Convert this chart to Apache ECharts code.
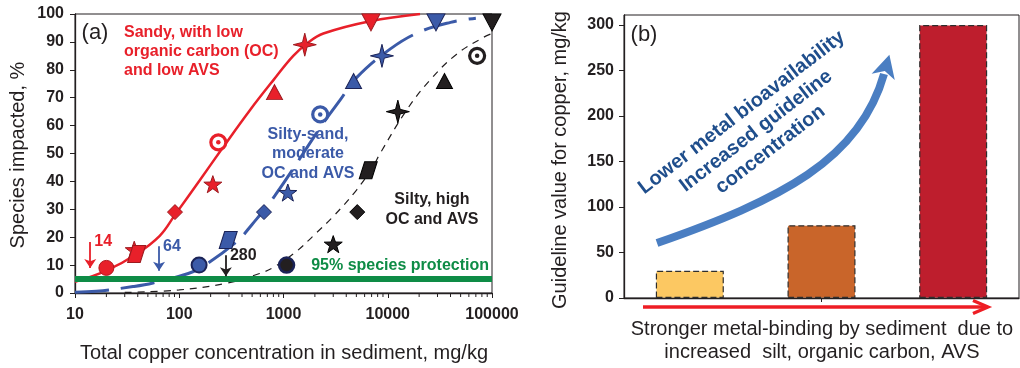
<!DOCTYPE html>
<html>
<head>
<meta charset="utf-8">
<title>Copper guideline values in sediment</title>
<script src="https://cdn.jsdelivr.net/npm/echarts@6/dist/echarts.min.js"></script>
<style>
html, body { margin: 0; padding: 0; background: #ffffff; }
#chart { width: 1020px; height: 368px; }
</style>
</head>
<body>
<div id="chart"></div>
<script>
// ---------- Panel (a): species impacted vs total copper in sediment (mg/kg) ----------
const sandyPoints     = [[20, 9], [39, 14], [91, 29], [210, 39], [237, 54], [820, 72], [1600, 89], [6900, 97]];
const sandyExtraStar  = [[37, 15.5]];
const siltySandPoints = [[155, 10], [295, 19], [650, 29], [1100, 36], [2250, 64], [4700, 76], [8800, 85], [29000, 97]];
const siltyPoints     = [[1070, 10], [6500, 44], [5100, 29], [3000, 17.5], [72000, 85], [35000, 76], [12500, 65], [100000, 97]];
// marker shape of each point, same order in every group
const markerShapes = ['circle', 'slant', 'diamond', 'star', 'ring', 'triangle', 'spark', 'down'];

// fitted species-sensitivity curves
const sandyFit = [[10, 4], [20, 8], [39, 14], [65, 20.5], [91, 28], [158, 40.5], [255, 51.5], [478, 65.6],
                  [800, 76.3], [1240, 85], [1730, 89.8], [2410, 93], [6760, 97.4], [20400, 100]];
const siltySandFit = [[10, 0.3], [16, 0.6], [36, 2.3], [56, 3.6], [122, 7], [170, 9.6], [355, 18.4], [495, 24.4],
                      [830, 35], [2400, 60.8], [3500, 69.2], [5050, 77.3], [10600, 87.5], [20000, 93.5], [40000, 97], [70000, 98.5]];
const siltyFit = [[30, 0.2], [100, 1.1], [284, 3.5], [590, 7], [800, 9.2], [1340, 15], [1930, 20.5], [3010, 27.5],
                  [5040, 37], [7260, 45.5], [8440, 50], [15200, 65.6], [25400, 76.3], [45800, 85.6], [82600, 91.6], [100000, 93]];

const protectionLevel = 5;              // 95 % species protection
const guidelineValues = [14, 64, 280];  // guideline concentration for each sediment type
const guidelineLabels = ['14', '64', '280'];

const xTickValues = [10, 100, 1000, 10000, 100000];
const xTickLabels = ['10', '100', '1000', '10000', '100000'];
const minorMultipliers = [2, 3, 4, 5, 6, 7, 8, 9];

// ---------- Panel (b): guideline value for copper per sediment type ----------
const sedimentTypes = ['Sandy', 'Silty-sand', 'Silty'];
const guidelineByType = [30, 80, 300];

// ---------- styling ----------
const FONT = '"Liberation Sans", Arial, Helvetica, sans-serif';
const INK = '#231F20', RED = '#E8202A', BLUE = '#3B5AA8', NAVY = '#1B2357', GREEN = '#0E8C46';
const barColors = ['#FCC862', '#C9652A', '#BE1E2D'];
const ARROW_BLUE = '#4A7EC2', TEXT_BLUE = '#1F4E8C', ARROW_RED = '#EE1D24';

const SHAPES = {
  circle:   { symbol: 'circle', size: 15 },
  slant:    { symbol: 'path://M3,0L10,0L7,10L0,10Z', size: [18, 17] },
  diamond:  { symbol: 'diamond', size: 15 },
  star:     { symbol: 'path://M0,-10L2.35,-3.24L9.51,-3.09L3.8,1.24L5.88,8.09L0,3.82L-5.88,8.09L-3.8,1.24L-9.51,-3.09L-2.35,-3.24Z', size: 18 },
  ring:     { symbol: 'circle', size: 15, ring: true },
  triangle: { symbol: 'triangle', size: [16, 15] },
  spark:    { symbol: 'path://M0,-10L2,-2L10,0L2,2L0,10L-2,2L-10,0L-2,-2Z', size: 23 },
  down:     { symbol: 'triangle', size: [18, 17], rotate: 180 }
};

function groupSeries(name, points, fit, color, edge, lineStyle, circleEdge) {
  const markers = points.map((p, i) => {
    const s = SHAPES[markerShapes[i]];
    const item = { value: p, symbol: s.symbol, symbolSize: s.size, symbolRotate: s.rotate || 0 };
    if (s.ring) item.itemStyle = { color: '#ffffff', borderColor: color, borderWidth: 3.2, opacity: 1 };
    else if (markerShapes[i] === 'circle') item.itemStyle = { color: color, borderColor: circleEdge.c, borderWidth: circleEdge.w, opacity: 1 };
    return item;
  });
  const ringCentres = points.filter((p, i) => SHAPES[markerShapes[i]].ring);
  return [
    { name: name + ' fit', type: 'line', xAxisIndex: 0, yAxisIndex: 0, data: fit, smooth: 0.4,
      showSymbol: false, symbol: 'none', lineStyle: lineStyle, z: 2, silent: true },
    { name: name, type: 'scatter', xAxisIndex: 0, yAxisIndex: 0, data: markers, symbolKeepAspect: true,
      itemStyle: { color: color, borderColor: edge, borderWidth: 1, opacity: 1 }, z: 5, silent: true },
    { name: name + ' centre', type: 'scatter', xAxisIndex: 0, yAxisIndex: 0, data: ringCentres, symbol: 'circle',
      symbolSize: 4.5, itemStyle: { color: color, opacity: 1 }, z: 6, silent: true }
  ];
}

const minorTickValues = [];
for (let i = 0; i < xTickValues.length - 1; i++) {
  minorMultipliers.forEach(m => minorTickValues.push(xTickValues[i] * m));
}

// arrows pointing at each guideline value on the 95 % protection line
const calloutColors = [RED, BLUE, INK];
const arrowTops = [18.3, 16.8, 13.5];
const arrowTips = [9, 8, 6];

const seriesList = [].concat(
  groupSeries('Sandy', sandyPoints, sandyFit, RED, '#9C1A1F',
              { color: RED, width: 2.5, type: 'solid' }, { c: '#B01A20', w: 1 }),
  [{ name: 'Sandy overlap', type: 'scatter', xAxisIndex: 0, yAxisIndex: 0, data: sandyExtraStar,
     symbol: SHAPES.star.symbol, symbolSize: 18, symbolKeepAspect: true, z: 4, silent: true,
     itemStyle: { color: RED, borderColor: '#9C1A1F', borderWidth: 1, opacity: 1 } }],
  groupSeries('Silty-sand', siltySandPoints, siltySandFit, BLUE, NAVY,
              { color: BLUE, width: 3, type: [34, 12] }, { c: NAVY, w: 2 }),
  groupSeries('Silty', siltyPoints, siltyFit, INK, '#000000',
              { color: INK, width: 1.2, type: [7, 6] }, { c: NAVY, w: 2.5 }),
  [
    { name: '95% species protection', type: 'line', xAxisIndex: 0, yAxisIndex: 0,
      data: [[xTickValues[0], protectionLevel], [xTickValues[xTickValues.length - 1], protectionLevel]],
      symbol: 'none', lineStyle: { color: GREEN, width: 6 }, z: 3, silent: true },
    { name: 'Guidelines', type: 'scatter', xAxisIndex: 0, yAxisIndex: 0, silent: true, z: 7,
      symbol: 'circle', symbolSize: 0.1, itemStyle: { color: 'transparent', opacity: 1 },
      data: guidelineValues.map((v, i) => ({
        value: [v, arrowTops[i]],
        label: { color: calloutColors[i] }
      })),
      label: { show: true, position: 'right', distance: 4, formatter: p => guidelineLabels[p.dataIndex],
               fontFamily: FONT, fontWeight: 'bold', fontSize: 16, opacity: 1, textBorderWidth: 0 },
      markLine: {
        silent: true, symbol: ['none', 'arrow'], symbolSize: 9, animation: false,
        label: { show: false },
        data: guidelineValues.map((v, i) => [
          { coord: [v, arrowTops[i]], lineStyle: { color: calloutColors[i], width: 1.8, type: 'solid', opacity: 1 } },
          { coord: [v, arrowTips[i]] }
        ])
      }
    },
    { name: 'minor ticks', type: 'custom', xAxisIndex: 0, yAxisIndex: 0, silent: true, clip: false,
      data: minorTickValues.map(v => [v, 0]),
      renderItem: (params, api) => {
        const p = api.coord([api.value(0), 0]);
        return { type: 'line', shape: { x1: p[0], y1: p[1], x2: p[0], y2: p[1] + 4 },
                 style: { stroke: INK, lineWidth: 1 } };
      }
    },
    { name: 'Guideline value', type: 'bar', xAxisIndex: 1, yAxisIndex: 1, barWidth: 68, silent: true,
      data: guidelineByType.map((v, i) => ({ value: v, itemStyle: { color: barColors[i] } })),
      itemStyle: { borderColor: '#2E2E2E', borderWidth: 1.2, borderType: [6, 3] } }
  ]
);

// ---------- decorations of panel (b) ----------
const P0 = [657, 243], P1 = [780, 200], P2 = [860, 160], P3 = [884, 74];
const dLen = Math.hypot(P3[0] - P2[0], P3[1] - P2[1]);
const dir = [(P3[0] - P2[0]) / dLen, (P3[1] - P2[1]) / dLen];
const perp = [-dir[1], dir[0]];
const head = [
  [P3[0] + dir[0] * 20, P3[1] + dir[1] * 20],
  [P3[0] + perp[0] * 12 - dir[0] * 3, P3[1] + perp[1] * 12 - dir[1] * 3],
  [P3[0] + dir[0] * 3, P3[1] + dir[1] * 3],
  [P3[0] - perp[0] * 12 - dir[0] * 3, P3[1] - perp[1] * 12 - dir[1] * 3]
];

function label(x, y, text, opts) {
  const o = opts || {};
  return {
    type: 'text', x: x, y: y, rotation: o.rotation || 0, silent: true, z: 20,
    style: {
      text: text, fill: o.color || INK,
      font: (o.weight || 'normal') + ' ' + (o.size || 16) + 'px ' + FONT,
      textAlign: o.align || 'center', textVerticalAlign: 'middle',
      align: o.align || 'center', verticalAlign: 'middle',
      lineHeight: o.lineHeight || undefined
    }
  };
}

const graphics = [
  label(95, 33, '(a)', { size: 22 }),
  label(644, 35, '(b)', { size: 22 }),
  label(124, 52, 'Sandy, with low\norganic carbon (OC)\nand low AVS', { color: RED, weight: 'bold', align: 'left', lineHeight: 19 }),
  label(308, 154, 'Silty-sand,\nmoderate\nOC and AVS', { color: BLUE, weight: 'bold', lineHeight: 19.3 }),
  label(432, 210, 'Silty, high\nOC and AVS', { weight: 'bold', lineHeight: 20 }),
  label(489, 266, '95% species protection', { color: GREEN, weight: 'bold', align: 'right' }),
  label(18, 155, 'Species impacted, %', { size: 20, rotation: Math.PI / 2 }),
  label(284, 353, 'Total copper concentration in sediment, mg/kg', { size: 20 }),
  label(560, 160, 'Guideline value for copper, mg/kg', { size: 20, rotation: Math.PI / 2 }),
  label(822, 341, 'Stronger metal-binding by sediment  due to\nincreased  silt, organic carbon, AVS', { size: 20, lineHeight: 23 }),
  {
    type: 'bezierCurve', silent: true, z: 15,
    shape: { x1: P0[0], y1: P0[1], cpx1: P1[0], cpy1: P1[1], cpx2: P2[0], cpy2: P2[1], x2: P3[0], y2: P3[1] },
    style: { stroke: ARROW_BLUE, lineWidth: 8, fill: null, lineCap: 'butt' }
  },
  { type: 'polygon', silent: true, z: 15, shape: { points: head }, style: { fill: ARROW_BLUE } },
  label(756, 131, 'Lower metal bioavailability\nIncreased guideline\nconcentration',
        { color: TEXT_BLUE, weight: 'bold', size: 20, lineHeight: 23.5, rotation: 37.6 * Math.PI / 180 }),
  { type: 'polyline', silent: true, z: 15, shape: { points: [[643, 307], [986, 307]] },
    style: { stroke: ARROW_RED, lineWidth: 3.3, fill: null } },
  { type: 'polyline', silent: true, z: 15, shape: { points: [[973, 300.5], [988, 307], [973, 313.5]] },
    style: { stroke: ARROW_RED, lineWidth: 3.3, fill: null, lineJoin: 'miter' } }
];

const tickFont = { fontFamily: FONT, fontWeight: 'bold', fontSize: 16, color: INK };

const option = {
  animation: false,
  backgroundColor: '#ffffff',
  grid: [
    { left: 75, top: 14, width: 417, height: 279, show: true, borderColor: INK, borderWidth: 1,
      backgroundColor: 'transparent', containLabel: false, outerBoundsMode: 'none' },
    { left: 624, top: 15, width: 395, height: 283, show: true, borderColor: INK, borderWidth: 1,
      backgroundColor: 'transparent', containLabel: false, outerBoundsMode: 'none' }
  ],
  xAxis: [
    { gridIndex: 0, type: 'log', logBase: 10, min: xTickValues[0], max: xTickValues[xTickValues.length - 1],
      axisLine: { show: true, lineStyle: { color: INK, width: 1.3 } },
      axisTick: { show: true, inside: false, length: 5, lineStyle: { color: INK, width: 1 } },
      minorTick: { show: false }, splitLine: { show: false },
      axisLabel: Object.assign({ margin: 14, formatter: v => {
        const k = xTickValues.findIndex(t => Math.abs(Math.log10(t) - Math.log10(v)) < 1e-6);
        return k >= 0 ? xTickLabels[k] : '';
      } }, tickFont) },
    { gridIndex: 1, type: 'category', data: sedimentTypes, boundaryGap: true,
      axisLine: { show: true, lineStyle: { color: INK, width: 1.3 } },
      axisTick: { show: true, alignWithLabel: true, interval: (i) => i === 1, length: 4, lineStyle: { color: INK } },
      axisLabel: { show: false }, splitLine: { show: false } }
  ],
  yAxis: [
    { gridIndex: 0, type: 'value', min: 0, max: 100, interval: 10,
      axisLine: { show: true, lineStyle: { color: INK, width: 1.3 } },
      axisTick: { show: true, inside: false, length: 5, lineStyle: { color: INK } },
      splitLine: { show: false },
      axisLabel: Object.assign({ margin: 11 }, tickFont) },
    { gridIndex: 1, type: 'value', min: 0, max: 311, interval: 50,
      axisLine: { show: true, lineStyle: { color: INK, width: 1.3 } },
      axisTick: { show: true, inside: false, length: 5, lineStyle: { color: INK } },
      splitLine: { show: false },
      axisLabel: Object.assign({ margin: 10, showMaxLabel: false,
        formatter: v => (v % 50 === 0 ? String(v) : '') }, tickFont) }
  ],
  series: seriesList,
  graphic: graphics
};

const chart = echarts.init(document.getElementById('chart'), null, { renderer: 'canvas' });
chart.setOption(option);
</script>
</body>
</html>
